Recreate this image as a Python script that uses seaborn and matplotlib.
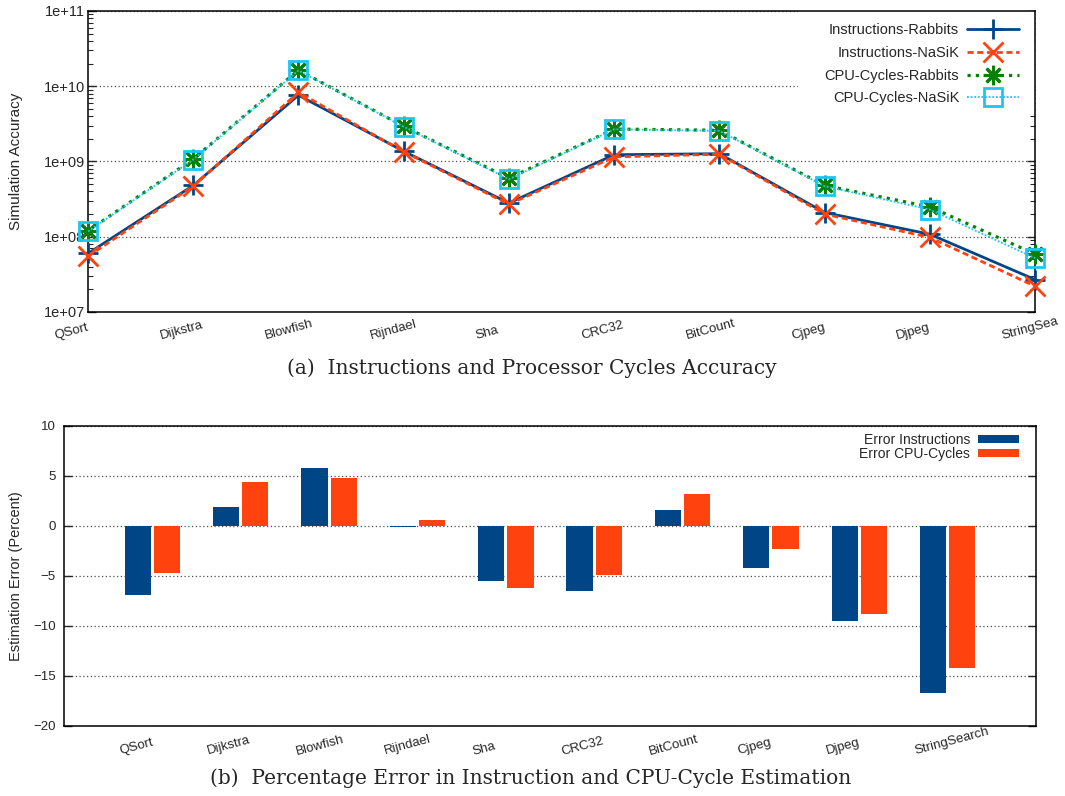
import numpy as np
import pandas as pd
import matplotlib
matplotlib.use("Agg")
import matplotlib.pyplot as plt
import matplotlib.ticker as mticker
from matplotlib.transforms import ScaledTranslation
from matplotlib.patches import Patch, Rectangle
import seaborn as sns

# ---------------------------------------------------------------- data
benchmarks = ["QSort", "Dijkstra", "Blowfish", "Rijndael", "Sha",
              "CRC32", "BitCount", "Cjpeg", "Djpeg", "StringSearch"]
accuracy_tick_labels = ["QSort", "Dijkstra", "Blowfish", "Rijndael", "Sha",
                        "CRC32", "BitCount", "Cjpeg", "Djpeg", "StringSea"]

instr_rabbits = [6.0e7, 4.8e8, 7.6e9, 1.37e9, 2.8e8, 1.23e9, 1.27e9, 2.1e8, 1.08e8, 2.7e7]
instr_nasik = [5.5e7, 4.7e8, 8.3e9, 1.35e9, 2.7e8, 1.15e9, 1.25e9, 2.0e8, 9.8e7, 2.2e7]
cycles_rabbits = [1.2e8, 1.08e9, 1.64e10, 2.93e9, 6.0e8, 2.7e9, 2.6e9, 4.8e8, 2.5e8, 5.9e7]
cycles_nasik = [1.18e8, 1.06e9, 1.62e10, 2.9e9, 5.8e8, 2.68e9, 2.55e9, 4.7e8, 2.3e8, 5.2e7]

err_instructions = [-6.9, 1.9, 5.8, -0.1, -5.5, -6.5, 1.6, -4.2, -9.5, -16.7]
err_cycles = [-4.7, 4.4, 4.8, 0.6, -6.2, -4.9, 3.2, -2.3, -8.8, -14.2]

series_names = ["Instructions-Rabbits", "Instructions-NaSiK",
                "CPU-Cycles-Rabbits", "CPU-Cycles-NaSiK"]
error_names = ["Error Instructions", "Error CPU-Cycles"]

# ---------------------------------------------------------------- style
BLUE = "#004586"
ORANGE = "#ff420e"
GREEN = "#0a800a"
CYAN = "#1cc6f2"

sns.set_style("white")
plt.rcParams["font.family"] = ["Liberation Sans", "DejaVu Sans"]
plt.rcParams["axes.linewidth"] = 1.1
plt.rcParams["axes.edgecolor"] = "black"

fig = plt.figure(figsize=(10.65, 7.96), dpi=100)
W, H = 1065, 796


def axes_px(left, top, right, bottom):
    return fig.add_axes([left / W, 1 - bottom / H, (right - left) / W, (bottom - top) / H])


ax1 = axes_px(88, 11, 1035, 312)
ax2 = axes_px(64, 426, 1036, 726)


def rotated_labels(ax, labels, pad_pt, size):
    ax.set_xticks(range(len(labels)))
    ax.set_xticklabels(labels, rotation=15, ha="left", va="center",
                       rotation_mode="anchor", fontsize=size)
    ax.tick_params(axis="x", length=0, pad=pad_pt)
    shift = ScaledTranslation(-0.33, 0, fig.dpi_scale_trans)
    for lab in ax.get_xticklabels():
        lab.set_transform(lab.get_transform() + shift)


# ---------------------------------------------------------------- (a) lines
x = np.arange(len(benchmarks))
styles = [
    dict(color=BLUE, linestyle="-", linewidth=2.0, marker="+", markersize=14,
         markeredgewidth=2.0, markeredgecolor=BLUE),
    dict(color=ORANGE, linestyle=(0, (2.2, 1.3)), linewidth=2.0, marker="x", markersize=14,
         markeredgewidth=2.0, markeredgecolor=ORANGE),
    dict(color=GREEN, linestyle=(0, (1, 1.6)), linewidth=2.3, marker=(8, 2, 0), markersize=14,
         markeredgewidth=2.0, markeredgecolor=GREEN),
    dict(color=CYAN, linestyle=(0, (1, 1)), linewidth=1.3, marker="s", markersize=13,
         markeredgewidth=2.0, markeredgecolor=CYAN, markerfacecolor="none"),
]
for name, vals, st in zip(series_names,
                          [instr_rabbits, instr_nasik, cycles_rabbits, cycles_nasik],
                          styles):
    sns.lineplot(x=x, y=vals, ax=ax1, label=name, clip_on=False, zorder=3, **st)

ax1.set_yscale("log")
ax1.set_ylim(1e7, 1e11)
ax1.set_xlim(0, 9)
ax1.yaxis.set_major_locator(mticker.LogLocator(base=10, numticks=10))
ax1.yaxis.set_minor_locator(mticker.LogLocator(base=10, subs=np.arange(2, 10), numticks=20))
ax1.yaxis.set_major_formatter(mticker.FuncFormatter(lambda v, p: f"{v:.0e}"))
ax1.yaxis.set_minor_formatter(mticker.NullFormatter())
ax1.tick_params(axis="y", which="major", direction="in", length=6, width=1,
                left=True, right=True, labelsize=10.5, pad=2)
ax1.tick_params(axis="y", which="minor", direction="in", length=3.5, width=0.8,
                left=True, right=True)
ax1.set_axisbelow(True)
ax1.yaxis.grid(True, which="major", linestyle=(0, (1, 2)), color="0.3", linewidth=0.9)
ax1.xaxis.grid(False)
rotated_labels(ax1, accuracy_tick_labels, 17.5, 9.5)
ax1.set_xlabel("")
ax1.set_ylabel("Simulation Accuracy", fontsize=11)
ax1.yaxis.set_label_coords(-0.069, 0.5)

# opaque key area
ax1.add_patch(Rectangle((0.75, 0.66), 0.25, 0.34, transform=ax1.transAxes,
                        facecolor="white", edgecolor="none", zorder=1))
ax1.legend(loc="upper right", bbox_to_anchor=(0.997, 1.003), markerfirst=False,
           frameon=False, fontsize=10.5, handlelength=3.6, labelspacing=0.6,
           handletextpad=0.5)

# ---------------------------------------------------------------- (b) bars
err_df = pd.DataFrame({
    "benchmark": benchmarks * 2,
    "error": err_instructions + err_cycles,
    "metric": [error_names[0]] * len(benchmarks) + [error_names[1]] * len(benchmarks),
})
sns.barplot(data=err_df, x="benchmark", y="error", hue="metric", order=benchmarks,
            hue_order=error_names, palette=[BLUE, ORANGE], width=0.66, gap=0.1,
            saturation=1, errorbar=None, linewidth=0, legend=False, ax=ax2, zorder=3)
ax2.set_xlim(-1, 10)
ax2.set_ylim(-20, 10)
ax2.set_yticks(np.arange(-20, 11, 5))
ax2.tick_params(axis="y", direction="in", length=6, width=1, left=True, right=True,
                labelsize=9.5, pad=6)
ax2.set_axisbelow(True)
ax2.yaxis.grid(True, linestyle=(0, (1, 2)), color="0.3", linewidth=0.9)
ax2.xaxis.grid(False)
rotated_labels(ax2, benchmarks, 18.5, 9.5)
ax2.set_xlabel("")
ax2.set_ylabel("Estimation Error (Percent)", fontsize=10.5)
ax2.yaxis.set_label_coords(-0.042, 0.5)

bar_handles = [Patch(facecolor=BLUE, edgecolor="none", label=error_names[0]),
               Patch(facecolor=ORANGE, edgecolor="none", label=error_names[1])]
ax2.legend(handles=bar_handles, loc="upper right", bbox_to_anchor=(0.995, 1.018),
           markerfirst=False, frameon=False, fontsize=10, handlelength=2.9,
           handleheight=0.5, labelspacing=0.0, handletextpad=0.6)

# ---------------------------------------------------------------- captions
cap_font = dict(family=["DejaVu Serif"], fontsize=14.5, ha="center", va="center")
fig.text(532 / W, 1 - 368 / H, "(a)  Instructions and Processor Cycles Accuracy", **cap_font)
fig.text(531 / W, 1 - 778 / H, "(b)  Percentage Error in Instruction and CPU-Cycle Estimation",
         **cap_font)

fig.savefig("out.png", dpi=100)
